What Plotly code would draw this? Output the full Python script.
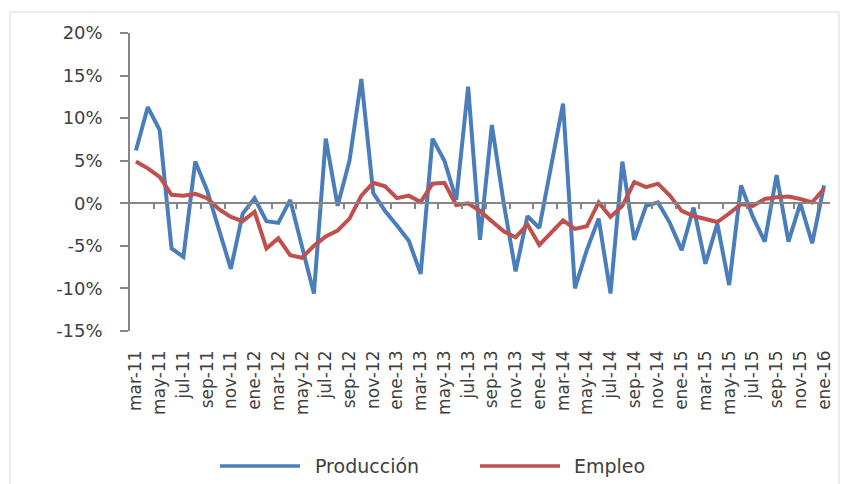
import plotly.graph_objects as go

# Monthly series, mar-11 .. ene-16 (year-on-year % change)
meses = [
    "mar-11", "abr-11", "may-11", "jun-11", "jul-11", "ago-11", "sep-11", "oct-11", "nov-11", "dic-11",
    "ene-12", "feb-12", "mar-12", "abr-12", "may-12", "jun-12", "jul-12", "ago-12", "sep-12", "oct-12", "nov-12", "dic-12",
    "ene-13", "feb-13", "mar-13", "abr-13", "may-13", "jun-13", "jul-13", "ago-13", "sep-13", "oct-13", "nov-13", "dic-13",
    "ene-14", "feb-14", "mar-14", "abr-14", "may-14", "jun-14", "jul-14", "ago-14", "sep-14", "oct-14", "nov-14", "dic-14",
    "ene-15", "feb-15", "mar-15", "abr-15", "may-15", "jun-15", "jul-15", "ago-15", "sep-15", "oct-15", "nov-15", "dic-15",
    "ene-16",
]

produccion = [
    6.2, 11.3, 8.6, -5.3, -6.3, 4.9, 1.5, -3.2, -7.7, -1.2,
    0.6, -2.1, -2.3, 0.4, -5.0, -10.6, 7.6, -0.3, 5.0, 14.6, 1.2, -0.9,
    -2.6, -4.4, -8.3, 7.6, 5.0, 0.4, 13.7, -4.3, 9.2, 0.0, -8.0, -1.5,
    -2.9, 4.3, 11.7, -10.0, -5.5, -1.8, -10.6, 4.9, -4.3, -0.3, 0.1, -2.3,
    -5.5, -0.5, -7.1, -2.4, -9.6, 2.1, -1.6, -4.5, 3.3, -4.5, 0.0, -4.7,
    2.1,
]

empleo = [
    4.9, 4.1, 3.1, 1.0, 0.9, 1.1, 0.6, -0.7, -1.6, -2.1,
    -1.0, -5.3, -4.1, -6.1, -6.4, -5.0, -3.9, -3.2, -1.8, 0.9, 2.4, 2.0,
    0.6, 0.9, 0.15, 2.3, 2.4, -0.2, 0.0, -0.9, -2.1, -3.3, -4.0, -2.5,
    -4.9, -3.5, -2.0, -3.0, -2.7, 0.1, -1.6, -0.3, 2.5, 1.9, 2.3, 0.9,
    -0.9, -1.5, -1.8, -2.2, -1.2, -0.1, -0.3, 0.5, 0.7, 0.8, 0.5, 0.1,
    1.7,
]

y_ticks = [-15, -10, -5, 0, 5, 10, 15, 20]
y_labels = [f"{v}%" for v in y_ticks]

AZUL = "#4A7EBB"
ROJO = "#C0504D"
GRIS = "#868686"
TEXTO = "#404040"
FUENTE = "DejaVu Sans"

idx = list(range(len(meses)))

fig = go.Figure()
fig.add_trace(go.Scatter(x=idx, y=produccion, mode="lines", name="Producción",
                         line=dict(color=AZUL, width=4)))
fig.add_trace(go.Scatter(x=idx, y=empleo, mode="lines", name="Empleo",
                         line=dict(color=ROJO, width=4)))

x_range = [-0.5, len(meses) - 0.5]
y_min, y_max = y_ticks[0], y_ticks[-1]

fig.update_layout(
    width=849, height=484,
    margin=dict(l=130, r=19, t=33, b=153),
    paper_bgcolor="white", plot_bgcolor="white",
    showlegend=False,
    font=dict(family=FUENTE, color=TEXTO),
    xaxis=dict(
        range=x_range, showgrid=False, zeroline=False, showline=False,
        tickmode="array", tickvals=idx[::2], ticktext=meses[::2],
        tickangle=-90, ticks="", ticklabelstandoff=15,
        tickfont=dict(family=FUENTE, size=17, color=TEXTO),
    ),
    # category axis drawn across the 0% level, ticks between categories
    xaxis2=dict(
        overlaying="x", anchor="free",
        position=(0 - y_min) / (y_max - y_min),
        range=x_range, showgrid=False, zeroline=False,
        showline=True, linecolor=GRIS, linewidth=1.5,
        tickmode="array", tickvals=[i - 0.5 for i in idx[::2]][1:],
        ticks="outside", ticklen=5, tickcolor=GRIS, tickwidth=1.5,
        showticklabels=False,
    ),
    yaxis=dict(
        range=[y_min, y_max], tickmode="array", tickvals=y_ticks,
        ticktext=y_labels, showgrid=False, zeroline=False,
        showline=True, linecolor=GRIS, linewidth=1.5,
        ticks="outside", ticklen=8, tickcolor=GRIS, tickwidth=1.5,
        ticklabelstandoff=14,
        tickfont=dict(family=FUENTE, size=18, color=TEXTO),
    ),
)

# dummy trace so the overlay axis is rendered
fig.add_trace(go.Scatter(x=[None], y=[None], xaxis="x2", showlegend=False, hoverinfo="skip"))

# chart frame
fig.add_shape(type="rect", xref="paper", yref="paper",
              x0=-0.1714, x1=1.0129, y0=-0.53, y1=1.0705,
              line=dict(color="#D9D9D9", width=1), layer="below")

# legend below the chart
leyenda = [("Producción", AZUL, 0.1286, 0.2429, 0.2614),
           ("Empleo", ROJO, 0.50, 0.6143, 0.6314)]
ly = -0.453
for nombre, color, lx0, lx1, tx in leyenda:
    fig.add_shape(type="line", xref="paper", yref="paper",
                  x0=lx0, x1=lx1, y0=ly, y1=ly,
                  line=dict(color=color, width=3.5))
    fig.add_annotation(text=nombre, xref="paper", yref="paper",
                       x=tx, y=ly, xanchor="left", yanchor="middle",
                       showarrow=False,
                       font=dict(family=FUENTE, size=19, color=TEXTO))

fig.write_html("out.html")
